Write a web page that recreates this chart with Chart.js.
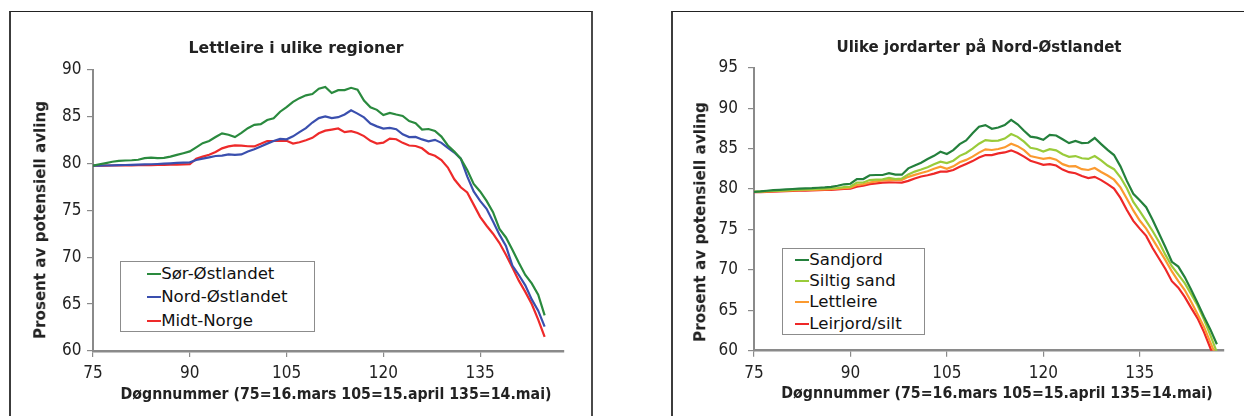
<!DOCTYPE html>
<html>
<head>
<meta charset="utf-8">
<script src="https://cdn.jsdelivr.net/npm/chart.js@4.4.1/dist/chart.umd.min.js"></script>
<style>
html,body{margin:0;padding:0;background:#fff;}
body{width:1244px;height:416px;position:relative;overflow:hidden;font-family:"DejaVu Sans",sans-serif;color:#222;}
.frame{position:absolute;box-sizing:border-box;border-left:2px solid #3c3c3c;border-right:2px solid #4a4a4a;border-top:1px solid #222;}
canvas{position:absolute;top:0;}
.txt{position:absolute;left:0;top:0;white-space:nowrap;line-height:1;color:#222;}
.legend{position:absolute;box-sizing:border-box;border:1px solid #8c8c8c;background:#fff;}
.lrow{position:absolute;white-space:nowrap;line-height:1;font-size:16.6px;color:#111;transform:translateY(-50%);}
.lsw{position:absolute;height:2px;}
</style>
</head>
<body>
<div class="frame" style="left:9px;top:11px;width:584px;height:430px;"></div>
<div class="frame" style="left:671px;top:11px;width:620px;height:430px;"></div>
<canvas id="c1" width="592" height="416" style="left:0px"></canvas>
<canvas id="c2" width="604" height="416" style="left:640px"></canvas>
<script>
// ---------- DATA ----------
const leftDays = [75,76,77,78,79,80,81,82,83,84,85,86,87,88,89,90,91,92,93,94,95,96,97,98,99,100,101,102,103,104,105,106,107,108,109,110,111,112,113,114,115,116,117,118,119,120,121,122,123,124,125,126,127,128,129,130,131,132,133,134,135,136,137,138,139,140,141,142,143,144,145];
const rightDays = [75,76,77,78,79,80,81,82,83,84,85,86,87,88,89,90,91,92,93,94,95,96,97,98,99,100,101,102,103,104,105,106,107,108,109,110,111,112,113,114,115,116,117,118,119,120,121,122,123,124,125,126,127,128,129,130,131,132,133,134,135,136,137,138,139,140,141,142,143,144,145,146,147];
const xTickValues = [75,90,105,120,135];
const leftYTicks = [60,65,70,75,80,85,90];
const rightYTicks = [60,65,70,75,80,85,90,95];

const leftTitle = 'Lettleire i ulike regioner';
const rightTitle = 'Ulike jordarter på Nord-Østlandet';
const xTitle = 'Døgnnummer (75=16.mars 105=15.april 135=14.mai)';
const yTitle = 'Prosent av potensiell avling';

const leftNames = ['Sør-Østlandet','Nord-Østlandet','Midt-Norge'];
const sorOstlandet = [79.75,79.9,80.03,80.17,80.27,80.3,80.33,80.38,80.55,80.6,80.55,80.58,80.72,80.9,81.08,81.27,
  81.7,82.15,82.38,82.8,83.2,83.05,82.8,83.25,83.75,84.1,
  84.18,84.62,84.8,85.5,86.0,86.55,86.95,87.25,87.39,87.95,
  88.15,87.5,87.8,87.8,88.05,87.85,86.7,85.97,85.7,85.15,
  85.38,85.2,85.05,84.5,84.28,83.6,83.66,83.45,82.85,81.9,
  81.25,80.5,79.3,77.8,77.0,76.0,74.8,73.0,72.1,70.8,
  69.4,68.1,67.2,66.0,63.8];
const nordOstlandet = [79.75,79.76,79.77,79.78,79.8,79.82,79.84,79.86,79.88,79.9,79.93,79.96,80.0,80.04,80.08,80.1,
  80.35,80.5,80.64,80.78,80.82,80.95,80.9,80.95,81.27,81.5,
  81.8,82.1,82.38,82.6,82.56,82.88,83.33,83.75,84.35,84.82,
  85.0,84.83,84.92,85.2,85.65,85.3,84.9,84.25,83.94,83.7,
  83.78,83.64,83.1,82.8,82.82,82.55,82.35,82.5,82.18,81.65,
  81.15,80.5,78.6,77.0,76.0,75.15,73.8,72.4,71.2,69.1,
  68.1,67.0,65.5,64.3,62.6];
const midtNorge = [79.75,79.75,79.76,79.77,79.77,79.78,79.79,79.8,79.8,79.81,79.82,79.83,79.85,79.86,79.88,79.9,
  80.5,80.72,80.92,81.2,81.6,81.8,81.92,81.88,81.82,81.8,
  82.08,82.38,82.38,82.4,82.4,82.1,82.25,82.46,82.72,83.2,
  83.48,83.6,83.72,83.33,83.43,83.23,82.9,82.4,82.1,82.2,
  82.64,82.57,82.18,81.9,81.85,81.6,81.05,80.8,80.35,79.55,
  78.3,77.45,76.9,75.6,74.3,73.35,72.5,71.5,70.25,68.9,
  67.5,66.3,65.0,63.35,61.5];

const rightNames = ['Sandjord','Siltig sand','Lettleire','Leirjord/silt'];
const sandjord = [79.65,79.7,79.78,79.85,79.9,79.95,80.0,80.04,80.07,80.1,80.15,80.2,80.27,80.4,80.58,80.65,
  81.23,81.23,81.7,81.73,81.73,81.95,81.78,81.77,82.55,82.9,
  83.25,83.7,84.1,84.6,84.33,84.8,85.55,86.0,86.9,87.7,
  87.9,87.45,87.6,87.9,88.55,88.0,87.2,86.47,86.35,86.08,
  86.7,86.62,86.15,85.67,85.95,85.67,85.72,86.3,85.55,84.83,
  84.2,82.8,81.0,79.4,78.6,77.75,76.2,74.5,72.8,71.0,
  70.4,69.1,67.55,65.9,64.2,62.6,60.8];
const siltigSand = [79.65,79.68,79.72,79.76,79.8,79.84,79.88,79.92,79.95,79.98,80.0,80.03,80.07,80.12,80.22,80.3,
  80.78,80.8,81.1,81.15,81.2,81.38,81.22,81.3,81.8,82.15,
  82.4,82.7,83.05,83.38,83.2,83.5,84.1,84.45,85.0,85.6,
  86.05,85.95,85.98,86.24,86.8,86.45,85.85,85.1,84.95,84.62,
  84.92,84.77,84.3,83.98,84.07,83.8,83.72,84.08,83.55,82.9,
  82.45,81.45,80.1,78.4,77.25,76.05,74.8,73.45,71.85,70.45,
  69.4,68.35,67.0,65.6,63.85,61.9,59.8];
const lettleire = [79.65,79.66,79.7,79.73,79.76,79.8,79.83,79.86,79.88,79.9,79.92,79.95,79.98,80.04,80.1,80.17,
  80.49,80.6,80.8,80.95,81.05,81.1,81.1,81.11,81.5,81.75,
  81.97,82.2,82.5,82.76,82.5,82.8,83.3,83.6,84.0,84.5,
  84.9,84.82,84.95,85.15,85.6,85.3,84.8,84.08,83.9,83.72,
  83.85,83.62,83.07,82.8,82.82,82.45,82.35,82.6,82.1,81.67,
  81.15,80.2,78.8,77.35,76.1,75.1,73.8,72.5,71.2,69.8,
  68.6,67.5,66.05,64.5,62.95,61.0,59.1];
const leirjordSilt = [79.6,79.62,79.65,79.68,79.7,79.72,79.75,79.78,79.8,79.83,79.86,79.88,79.9,79.95,80.0,80.05,
  80.28,80.4,80.6,80.7,80.78,80.82,80.8,80.78,81.0,81.3,
  81.55,81.7,81.9,82.14,82.14,82.35,82.75,83.1,83.45,83.9,
  84.2,84.2,84.4,84.52,84.78,84.45,84.0,83.5,83.25,82.98,
  83.08,82.9,82.4,82.08,81.95,81.6,81.34,81.5,81.1,80.6,
  80.05,78.9,77.4,76.05,75.1,74.2,72.7,71.4,70.1,68.6,
  67.8,66.65,65.3,64.0,62.3,60.3,58.3];

// ---------- STYLE / LAYOUT ----------
const leftColors = ['#2a8a3e','#3a4fae','#ee2a2a'];
const rightColors = ['#24803c','#9acb3a','#fb9a30','#ee2828'];
const tickFont = {family:"'DejaVu Sans Condensed','DejaVu Sans',sans-serif", size:17};

function makeChart(id, days, series, names, colors, yMin, yMax, yTicks, geo) {
  const datasets = series.map((vals, i) => ({
    label: names[i],
    data: days.map((d, j) => ({x: d, y: vals[j]})),
    borderColor: colors[i],
    backgroundColor: colors[i],
    borderWidth: 2.2,
    pointRadius: 0,
    tension: 0,
    fill: false
  }));
  return new Chart(document.getElementById(id), {
    type: 'line',
    data: {datasets},
    options: {
      responsive: false,
      animation: false,
      devicePixelRatio: 1,
      events: [],
      layout: {padding: {left: 0, right: geo.padRight, top: geo.padTop, bottom: 0}},
      plugins: {legend: {display: false}, tooltip: {enabled: false}, title: {display: false}},
      scales: {
        x: {
          type: 'linear', min: 75, max: 148,
          afterBuildTicks: s => { s.ticks = xTickValues.map(v => ({value: v})); },
          afterFit: s => { s.height = geo.xHeight; },
          grid: {drawOnChartArea: false, drawTicks: true, tickLength: 6, color: '#8a8a8a', lineWidth: 1.2},
          border: {display: true, color: '#8a8a8a', width: 2.5},
          ticks: {font: tickFont, color: '#222', padding: geo.xPad, maxRotation: 0, autoSkip: false}
        },
        y: {
          type: 'linear', min: yMin, max: yMax,
          afterBuildTicks: s => { s.ticks = yTicks.map(v => ({value: v})); },
          afterFit: s => { s.width = geo.yWidth; },
          grid: {drawOnChartArea: false, drawTicks: true, tickLength: 6, color: '#8a8a8a', lineWidth: 1.2},
          border: {display: true, color: '#8a8a8a', width: 2},
          ticks: {font: tickFont, color: '#222', padding: geo.yPad}
        }
      }
    }
  });
}

const chartL = makeChart('c1', leftDays, [sorOstlandet, nordOstlandet, midtNorge], leftNames, leftColors, 60, 90, leftYTicks,
  {padRight: 28, padTop: 69.5, xHeight: 65, xPad: 6.5, yWidth: 93, yPad: 5.5});
const chartR = makeChart('c2', rightDays, [sandjord, siltigSand, lettleire, leirjordSilt], rightNames, rightColors, 60, 95, rightYTicks,
  {padRight: 20.7, padTop: 67.7, xHeight: 65.3, xPad: 6.5, yWidth: 114, yPad: 10});

// ---------- TEXT OVERLAYS ----------
function placeText(text, cx, cy, targetW, size, bold, rotate) {
  const el = document.createElement('div');
  el.className = 'txt';
  el.textContent = text;
  el.style.fontSize = size + 'px';
  el.style.fontWeight = bold ? 'bold' : 'normal';
  document.body.appendChild(el);
  const w = el.getBoundingClientRect().width;
  const s = targetW / w;
  el.style.left = cx + 'px';
  el.style.top = cy + 'px';
  el.style.transform = 'translate(-50%,-50%)' + (rotate ? ' rotate(-90deg)' : '') + ' scaleX(' + s.toFixed(4) + ')';
}
placeText(leftTitle, 296, 47.5, 215, 16, true, false);
placeText(rightTitle, 979.2, 46.7, 285, 16, true, false);
placeText(xTitle, 336.2, 393.7, 431, 15, true, false);
placeText(xTitle, 997.3, 393.3, 431.3, 15, true, false);
placeText(yTitle, 40.5, 220.3, 238, 15.5, true, true);
placeText(yTitle, 701.3, 221.7, 240, 15.5, true, true);

function addLegend(chart, box, rowYs, swX, swW, textX) {
  const lg = document.createElement('div');
  lg.className = 'legend';
  lg.style.left = box.x + 'px'; lg.style.top = box.y + 'px';
  lg.style.width = box.w + 'px'; lg.style.height = box.h + 'px';
  chart.data.datasets.forEach((ds, i) => {
    const sw = document.createElement('div');
    sw.className = 'lsw';
    sw.style.left = swX + 'px'; sw.style.width = swW + 'px';
    sw.style.top = (rowYs[i] - 1) + 'px';
    sw.style.background = ds.borderColor;
    lg.appendChild(sw);
    const t = document.createElement('div');
    t.className = 'lrow';
    t.style.left = textX + 'px'; t.style.top = rowYs[i] + 'px';
    t.textContent = ds.label;
    lg.appendChild(t);
  });
  document.body.appendChild(lg);
}
addLegend(chartL, {x: 120, y: 261, w: 194.5, h: 70.5}, [11.8, 35.4, 58.8], 26.2, 13.5, 40.2);
addLegend(chartR, {x: 781.5, y: 248.3, w: 143, h: 86.5}, [10.6, 31.6, 53.0, 74.6], 12.2, 14.3, 26.8);
</script>
</body>
</html>
